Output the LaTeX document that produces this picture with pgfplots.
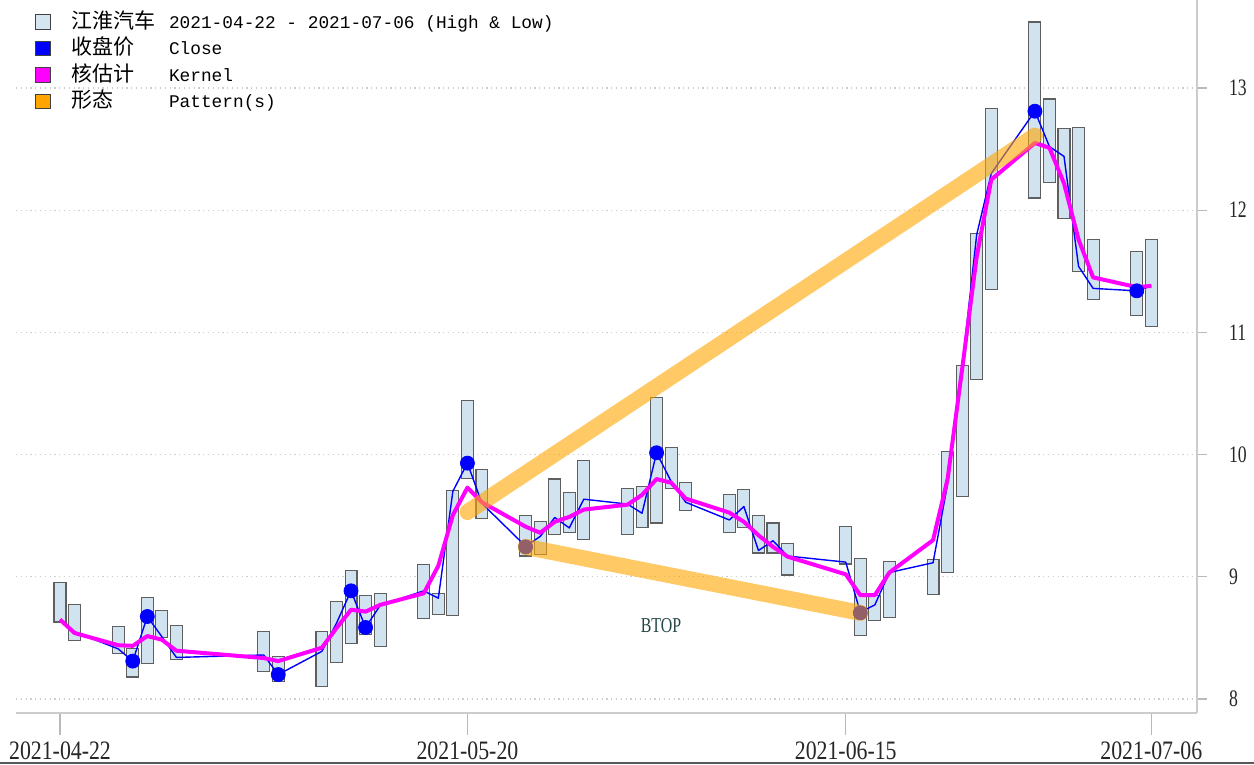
\documentclass[border=0pt]{standalone}
\usepackage{fontspec}
\setmainfont{Liberation Serif}
\newfontfamily\cjk{Noto Sans CJK SC}
\newfontfamily\monof{Liberation Mono}
\newfontfamily\condf[FakeStretch=0.75]{Liberation Serif}
\newfontfamily\condx[FakeStretch=0.82]{Liberation Serif}
\usepackage{pgfplots}
\pgfplotsset{compat=1.18}
\usepackage{pgfplotstable}

\definecolor{barfill}{RGB}{208,227,239}
\definecolor{baredge}{RGB}{95,95,95}
\definecolor{closeblue}{RGB}{0,0,255}
\definecolor{kernelmag}{RGB}{255,0,255}
\definecolor{pattorange}{RGB}{255,165,0}
\definecolor{pattdot}{RGB}{148,96,104}
\definecolor{btopcol}{RGB}{35,70,70}
\definecolor{legbar}{RGB}{214,230,240}

% d = days after 2021-04-22
\pgfplotstableread{
d low high close kernel
0 8.63 8.95 8.65 8.65
1 8.475 8.77 8.55 8.54
4 8.37 8.595 8.41 8.44
5 8.18 8.415 8.31 8.435
6 8.29 8.83 8.675 8.515
7 8.505 8.725 8.51 8.485
8 8.32 8.60 8.34 8.395
14 8.225 8.55 8.36 8.335
15 8.14 8.35 8.20 8.31
18 8.105 8.55 8.39 8.42
19 8.30 8.80 8.62 8.58
20 8.455 9.055 8.885 8.73
21 8.53 8.845 8.585 8.715
22 8.43 8.86 8.765 8.77
25 8.655 9.10 8.885 8.865
26 8.695 8.86 8.825 9.09
27 8.685 9.705 9.70 9.505
28 9.805 10.445 9.93 9.73
29 9.475 9.875 9.60 9.61
32 9.17 9.50 9.25 9.41
33 9.185 9.45 9.33 9.36
34 9.345 9.80 9.485 9.45
35 9.365 9.69 9.40 9.49
36 9.305 9.955 9.635 9.55
39 9.345 9.725 9.595 9.59
40 9.405 9.74 9.52 9.67
41 9.44 10.465 10.015 9.80
42 9.725 10.055 9.78 9.77
43 9.54 9.77 9.61 9.64
46 9.365 9.675 9.465 9.525
47 9.405 9.715 9.575 9.45
48 9.195 9.50 9.215 9.34
49 9.195 9.44 9.295 9.245
50 9.015 9.275 9.17 9.165
54 9.105 9.415 9.12 9.02
55 8.52 9.15 8.71 8.85
56 8.64 8.845 8.77 8.85
57 8.67 9.125 9.035 9.035
60 8.855 9.145 9.115 9.30
61 9.035 10.025 9.76 9.80
62 9.66 10.73 10.72 10.70
63 10.615 11.81 11.80 11.62
64 11.35 12.83 12.30 12.25
67 12.10 13.54 12.81 12.55
68 12.225 12.91 12.52 12.51
69 11.93 12.67 12.44 12.22
70 11.50 12.68 11.54 11.76
71 11.27 11.76 11.36 11.45
74 11.14 11.665 11.34 11.37
75 11.05 11.76 11.38 11.38
}\pricedata

\pgfplotstableread{
d close
5 8.31
6 8.675
15 8.20
20 8.885
21 8.585
28 9.93
41 10.015
67 12.81
74 11.34
}\bluedots

\pgfplotstableread{
d close
32 9.245
55 8.705
}\pattdots

\pgfplotstableread{
d y
28 9.53
67 12.61
}\pattA

\pgfplotstableread{
d y
32 9.245
55 8.705
}\pattB

\pgfplotsset{base/.style={width=590.5pt,height=356.5pt,scale only axis,
  xmin=-3.024,xmax=78.14,ymin=7.8854,ymax=13.72,at={(0,0)},anchor=south west}}

\begin{document}
\begin{tikzpicture}
\begin{axis}[base, ybar stacked, bar width=0.82,
  axis x line*=bottom, axis y line*=right,
  axis line style={draw=gray!40, line width=1pt},
  xtick={0,28,54,75},
  xticklabels={2021-04-22,2021-05-20,2021-06-15,2021-07-06},
  ytick={8,9,10,11,12,13}, yticklabels={8,9,10,11,12,13},
  tick align=outside, major tick length=11pt,
  y tick style={/pgfplots/major tick length=5pt},
  tick style={draw=gray!55, line width=0.6pt},
  ymajorgrids, grid style={draw=gray!40, line width=0.6pt, dash pattern=on 0.6pt off 1.8pt},
  xticklabel style={font=\condx\fontsize{13.3}{14}\selectfont, text=black!85},
  yticklabel style={font=\condf\fontsize{11.8}{13}\selectfont, text=black!85, xshift=1.5pt},
]
\addplot[draw=none, fill=none] table[x=d,y=low]{\pricedata};
\addplot[fill=barfill, draw=baredge, line width=0.55pt] table[x=d,y expr=\thisrow{high}-\thisrow{low}]{\pricedata};
\end{axis}

\begin{axis}[base, hide axis,
  legend style={at={(0.0161,0.986)}, anchor=north west, draw=none, fill=none,
    inner sep=0pt, row sep=1.75pt, column sep=0pt,
    nodes={inner sep=0pt, text height=9pt, text depth=2.5pt, anchor=west}},
  legend cell align=left,
]
\addlegendimage{legend image code/.code={\draw[fill=legbar, draw=black!75, line width=0.5pt] (0pt,-3.6pt) rectangle (7.3pt,3.6pt);}}
\addlegendentry{\hspace*{10pt}\makebox[49pt][l]{\cjk\fontsize{10.5}{12}\selectfont 江淮汽车}{\monof\fontsize{8.9}{10}\selectfont 2021-04-22 - 2021-07-06 (High \& Low)}}
\addlegendimage{legend image code/.code={\draw[fill=closeblue, draw=black!75, line width=0.5pt] (0pt,-3.6pt) rectangle (7.3pt,3.6pt);}}
\addlegendentry{\hspace*{10pt}\makebox[49pt][l]{\cjk\fontsize{10.5}{12}\selectfont 收盘价}{\monof\fontsize{8.9}{10}\selectfont Close}}
\addlegendimage{legend image code/.code={\draw[fill=kernelmag, draw=black!75, line width=0.5pt] (0pt,-3.6pt) rectangle (7.3pt,3.6pt);}}
\addlegendentry{\hspace*{10pt}\makebox[49pt][l]{\cjk\fontsize{10.5}{12}\selectfont 核估计}{\monof\fontsize{8.9}{10}\selectfont Kernel}}
\addlegendimage{legend image code/.code={\draw[fill=pattorange, draw=black!75, line width=0.5pt] (0pt,-3.6pt) rectangle (7.3pt,3.6pt);}}
\addlegendentry{\hspace*{10pt}\makebox[49pt][l]{\cjk\fontsize{10.5}{12}\selectfont 形态}{\monof\fontsize{8.9}{10}\selectfont Pattern(s)}}

\addplot[closeblue, line width=0.7pt, line join=round, forget plot] table[x=d,y=close]{\pricedata};
\addplot[kernelmag, line width=2pt, line join=round, forget plot] table[x=d,y=kernel]{\pricedata};
\addplot[only marks, mark=*, mark size=3.5pt, closeblue, forget plot] table[x=d,y=close]{\bluedots};
\addplot[pattorange, draw opacity=0.6, line width=8pt, line cap=round, forget plot] table[x=d,y=y]{\pattA};
\addplot[pattorange, draw opacity=0.6, line width=8pt, line cap=round, forget plot] table[x=d,y=y]{\pattB};
\addplot[only marks, mark=*, mark size=3.5pt, pattdot, forget plot] table[x=d,y=close]{\pattdots};
\node[font=\condf\fontsize{10.6}{12}\selectfont, text=btopcol] at (axis cs:41.3,8.60) {BTOP};
\end{axis}
\draw[gray!70!black, line width=1pt] (-8pt,-25pt) -- (619pt,-25pt);
\pgfresetboundingbox
\path[use as bounding box] (-8pt,-26pt) rectangle (619pt,356.5pt);
\end{tikzpicture}
\end{document}
